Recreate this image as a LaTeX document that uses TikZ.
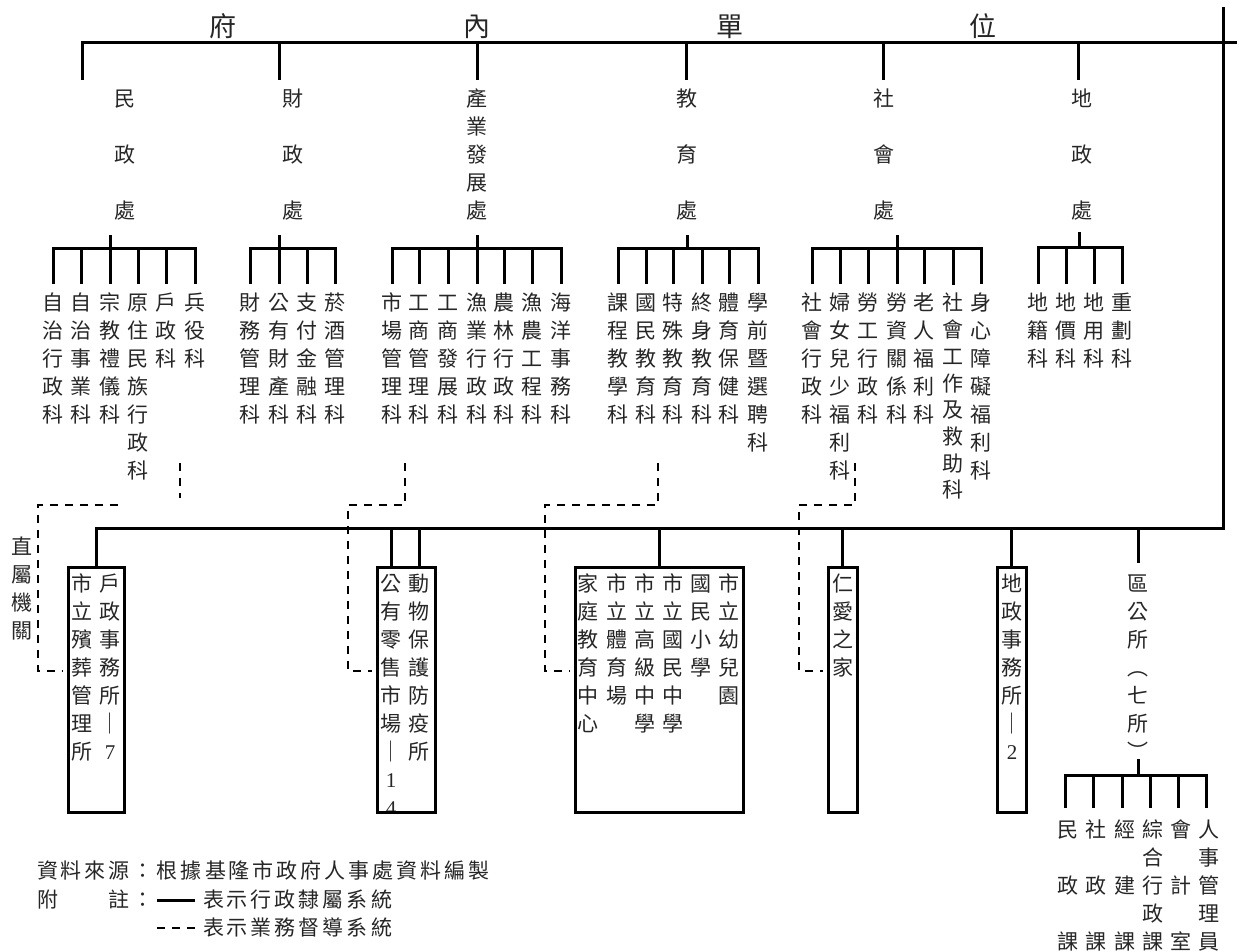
\documentclass[tikz,border=0pt]{standalone}
\usepackage{fontspec}
\setmainfont{Noto Sans CJK TC}
\newfontfamily\sn{Liberation Serif}
\makeatletter
\newcommand\vcol[2][28]{\vbox{\offinterlineskip\@tfor\vc@c:=#2\do{\hbox to 24pt{\hss\rule[\dimexpr0.38em-#1pt/2\relax]{0pt}{#1pt}\vc@c\hss}}}}
\newcommand\hrow[2][24]{\hbox{\@tfor\vc@c:=#2\do{\hbox to #1pt{\hss\vc@c\hss}}}}
\makeatother
\newcommand\vnode[6][28]{\node[#2] (#3) at (#4,#5-#1/2) {\vcol[#1]{#6}};}
\tikzset{
  ln/.style={line width=3pt},
  dl/.style={line width=2pt, dash pattern=on 8pt off 7pt},
  boxn/.style={draw, line width=3pt, inner sep=0pt, minimum height=245pt},
  txt/.style={inner sep=0pt, outer sep=0pt, anchor=north, font=\fontsize{21}{21}\selectfont, text=black!85},
  ttl/.style={txt, font=\fontsize{27}{27}\selectfont},
  leg/.style={inner sep=0pt, outer sep=0pt, anchor=west, font=\fontsize{21}{21}\selectfont, text=black!85},
}
\begin{document}
\begin{tikzpicture}[x=1pt,y=-1pt]
\useasboundingbox (0,0) rectangle (1239,952);
% title
\vnode{ttl}{t1}{223}{26}{府}
\vnode{ttl}{t2}{477}{26}{內}
\vnode{ttl}{t3}{730}{26}{單}
\vnode{ttl}{t4}{983}{26}{位}
% top line and drops
\coordinate (tL) at (82,43);
\coordinate (tR) at (1237,43);
\coordinate (d1) at (82,80);
\coordinate (d2) at (279,80);
\coordinate (d3) at (477,80);
\coordinate (d4) at (686,80);
\coordinate (d5) at (883,80);
\coordinate (d6) at (1078,80);
\coordinate (vT) at (1223,7);
\coordinate (vB) at (1223,528);
\draw[ln] (d1) |- (tR);
\foreach \i in {2,...,6} \draw[ln] (d\i) -- (d\i |- tL);
% ministries
\vnode[56]{txt}{m1}{125}{99}{民政處}
\vnode[56]{txt}{m2}{293}{99}{財政處}
\vnode{txt}{m3}{477}{99}{產業發展處}
\vnode[56]{txt}{m4}{687}{99}{教育處}
\vnode[56]{txt}{m5}{884}{99}{社會處}
\vnode[56]{txt}{m6}{1082}{99}{地政處}
% group 1
\vnode{txt}{c1a}{53}{303}{自治行政科}
\vnode{txt}{c1b}{81}{303}{自治事業科}
\vnode{txt}{c1c}{110}{303}{宗教禮儀科}
\vnode{txt}{c1d}{138}{303}{原住民族行政科}
\vnode{txt}{c1e}{166}{303}{戶政科}
\vnode{txt}{c1f}{195}{303}{兵役科}
% group 2
\vnode{txt}{c2a}{250}{303}{財務管理科}
\vnode{txt}{c2b}{279}{303}{公有財產科}
\vnode{txt}{c2c}{307}{303}{支付金融科}
\vnode{txt}{c2d}{335}{303}{菸酒管理科}
% group 3
\vnode{txt}{c3a}{392}{303}{市場管理科}
\vnode{txt}{c3b}{419}{303}{工商管理科}
\vnode{txt}{c3c}{448}{303}{工商發展科}
\vnode{txt}{c3d}{477}{303}{漁業行政科}
\vnode{txt}{c3e}{504}{303}{農林行政科}
\vnode{txt}{c3f}{532}{303}{漁農工程科}
\vnode{txt}{c3g}{561}{303}{海洋事務科}
% group 4
\vnode{txt}{c4a}{618}{303}{課程教學科}
\vnode{txt}{c4b}{646}{303}{國民教育科}
\vnode{txt}{c4c}{673}{303}{特殊教育科}
\vnode{txt}{c4d}{702}{303}{終身教育科}
\vnode{txt}{c4e}{729}{303}{體育保健科}
\vnode{txt}{c4f}{758}{303}{學前暨選聘科}
% group 5
\vnode{txt}{c5a}{812}{303}{社會行政科}
\vnode{txt}{c5b}{840}{303}{婦女兒少福利科}
\vnode{txt}{c5c}{868}{303}{勞工行政科}
\vnode{txt}{c5d}{897}{303}{勞資關係科}
\vnode{txt}{c5e}{924}{303}{老人福利科}
\vnode[26.7]{txt}{c5f}{953}{303}{社會工作及救助科}
\vnode{txt}{c5g}{981}{303}{身心障礙福利科}
% group 6
\vnode{txt}{c6a}{1038}{303}{地籍科}
\vnode{txt}{c6b}{1066}{303}{地價科}
\vnode{txt}{c6c}{1094}{303}{地用科}
\vnode{txt}{c6d}{1122}{303}{重劃科}
% group brackets
\coordinate (s1) at (110,235); \coordinate (g1) at (110,248);
\coordinate (s2) at (279,235); \coordinate (g2) at (279,248);
\coordinate (s3) at (477,235); \coordinate (g3) at (477,248);
\coordinate (s4) at (687,235); \coordinate (g4) at (687,248);
\coordinate (s5) at (897,235); \coordinate (g5) at (897,248);
\coordinate (s6) at (1079,232); \coordinate (g6) at (1079,247);
\foreach \g/\f/\l/\mid in {1/a/f/{b,c,d,e}, 2/a/d/{b,c}, 3/a/g/{b,c,d,e,f}, 4/a/f/{b,c,d,e}, 5/a/g/{b,c,d,e,f}, 6/a/d/{b,c}}{
  \draw[ln] (s\g) -- (g\g);
  \draw[ln] ([yshift=5pt]c\g\f.north) -- (c\g\f.north |- g\g) -- (c\g\l.north |- g\g) -- ([yshift=5pt]c\g\l.north);
  \foreach \n in \mid \draw[ln] (c\g\n.north |- g\g) -- ([yshift=5pt]c\g\n.north);
}
% lower boxes
\node[boxn, minimum width=56pt] (b1) at (96,689.5) {};
\node[boxn, minimum width=58pt] (b2) at (406,689.5) {};
\node[boxn, minimum width=168pt] (b3) at (659,689.5) {};
\node[boxn, minimum width=29pt] (b4) at (842.5,689.5) {};
\node[boxn, minimum width=29pt] (b5) at (1011.5,689.5) {};
\vnode{txt}{zs}{22}{547}{直屬機關}
\vnode{txt}{k11}{82}{584}{市立殯葬管理所}
\vnode{txt}{k12}{110}{584}{戶政事務所｜{\sn 7}}
\begin{scope}
\clip (378.5,568.5) rectangle (433.5,810.5);
\vnode{txt}{k21}{391}{584}{公有零售市場｜{\sn 1}{\sn 4}}
\vnode{txt}{k22}{419}{584}{動物保護防疫所}
\end{scope}
\vnode{txt}{k31}{588}{584}{家庭教育中心}
\vnode{txt}{k32}{617}{584}{市立體育場}
\vnode{txt}{k33}{645}{584}{市立高級中學}
\vnode{txt}{k34}{673}{584}{市立國民中學}
\vnode{txt}{k35}{701}{584}{國民小學}
\vnode{txt}{k36}{729}{584}{市立幼兒園}
\vnode{txt}{k41}{843}{584}{仁愛之家}
\vnode{txt}{k51}{1012}{584}{地政事務所｜{\sn 2}}
\vnode{txt}{q}{1138}{584}{區公所︵七所︶}
% lower bar and drops
\draw[ln] (b1.north) |- (vB) -- (vT);
\draw[ln] (k21.north |- vB) -- (k21.north |- b2.north);
\draw[ln] (k22.north |- vB) -- (k22.north |- b2.north);
\draw[ln] (b3.north |- vB) -- (b3.north);
\draw[ln] (b4.north |- vB) -- (b4.north);
\draw[ln] (b5.north |- vB) -- (b5.north);
\draw[ln] (q.north |- vB) -- ([yshift=7pt]q.north);
% district office sections
\vnode{txt}{r1}{1068}{830}{民{}政{}課}
\vnode{txt}{r2}{1096}{830}{社{}政{}課}
\vnode{txt}{r3}{1125}{830}{經{}建{}課}
\vnode{txt}{r4}{1153}{830}{綜合行政課}
\vnode{txt}{r5}{1181}{830}{會{}計{}室}
\vnode{txt}{r6}{1209}{830}{人事管理員}
\coordinate (qs) at (1138,759); \coordinate (qb) at (1138,775);
\draw[ln] (qs) -- (qb);
\draw[ln] ([xshift=-3pt,yshift=8pt]r1.north) -- ([xshift=-3pt]r1.north |- qb) -- ([xshift=-3pt]r6.north |- qb) -- ([xshift=-3pt,yshift=8pt]r6.north);
\foreach \n in {2,3,4,5} \draw[ln] ([xshift=-3pt]r\n.north |- qb) -- ([xshift=-3pt,yshift=8pt]r\n.north);
% dashed supervision lines
\coordinate (e1a) at (180,463); \coordinate (e1b) at (180,498);
\coordinate (e1c) at (118,505); \coordinate (e1d) at (38,505); \coordinate (e1e) at (38,671);
\draw[dl] (e1a) -- (e1b);
\draw[dl, shorten >=3.5pt] (e1c) -- (e1d) -- (e1e) -- (e1e -| b1.west);
\coordinate (e2a) at (405,463); \coordinate (e2b) at (405,505);
\coordinate (e2c) at (348,505); \coordinate (e2d) at (348,671);
\draw[dl, shorten >=3.5pt] (e2a) -- (e2b) -- (e2c) -- (e2d) -- (e2d -| b2.west);
\coordinate (e3a) at (658,463); \coordinate (e3b) at (658,505);
\coordinate (e3c) at (545,505); \coordinate (e3d) at (545,671);
\draw[dl, shorten >=3.5pt] (e3a) -- (e3b) -- (e3c) -- (e3d) -- (e3d -| b3.west);
\coordinate (e4a) at (855,463); \coordinate (e4b) at (855,505);
\coordinate (e4c) at (799,505); \coordinate (e4d) at (799,671);
\draw[dl, shorten >=3.5pt] (e4a) -- (e4b) -- (e4c) -- (e4d) -- (e4d -| b4.west);
% legend
\node[leg] (src) at (35.5,870) {\hrow{資料來源：根據基隆市政府人事處資料編製}};
\node[leg] (nt) at (35.5,900) {\hrow{附　　註：}};
\node[leg] (n1) at (201.5,900) {\hrow{表示行政隸屬系統}};
\node[leg] (n2) at (201.5,928) {\hrow{表示業務督導系統}};
\draw[ln] ([xshift=1.5pt]nt.east) -- ([xshift=-6.5pt]n1.west);
\path (nt.east |- n2.west) coordinate (lg2);
\draw[dl] ([xshift=1.5pt]lg2) -- ([xshift=-6.5pt]n2.west);
\end{tikzpicture}
\end{document}
